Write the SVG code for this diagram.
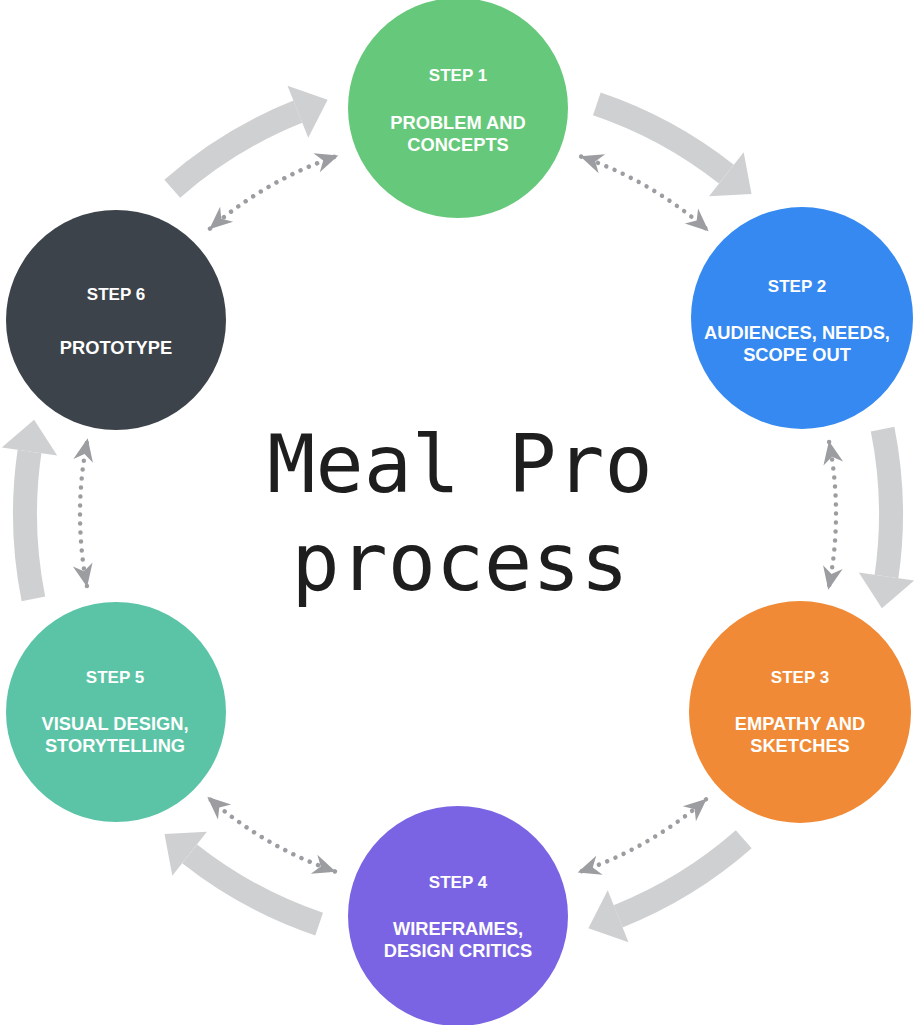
<svg xmlns="http://www.w3.org/2000/svg" width="918" height="1025" viewBox="0 0 918 1025">
<style>
.lbl{font-family:"Liberation Sans",Arial,sans-serif;font-weight:bold;fill:#ffffff;text-anchor:middle}
.step{font-size:17px}
.name{font-size:18.3px}
.title{font-family:"DejaVu Sans Mono",monospace;font-size:80px;fill:#1e1e1e;text-anchor:middle}
.shaft{fill:none;stroke:#cfd0d2;stroke-width:24}
.head{fill:#cfd0d2}
.dots{fill:none;stroke:#9c9da1;stroke-width:4.5;stroke-linecap:round;stroke-dasharray:0 9;marker-start:url(#dh);marker-end:url(#dh)}
</style>
<defs>
<marker id="dh" markerUnits="userSpaceOnUse" viewBox="-26 -13 28 26" markerWidth="28" markerHeight="26" refX="0" refY="0" orient="auto-start-reverse" overflow="visible">
<path d="M1,0 L-22,-10 L-15,0 L-22,10 Z" fill="#9c9da1"/>
</marker>
<g id="bigArrow">
<path class="shaft" d="M882.6,429.2 A433,433 0 0 1 886.5,576.5"/>
<polygon class="head" points="914.2,580.5 881.9,608.2 858.8,572.5"/>
</g>
<path id="dotArc" class="dots" d="M829.1,441.9 A378,378 0 0 1 828.5,588.7"/>
</defs>
<g id="connectors">
<use href="#bigArrow" transform="rotate(-120 458 514)"/>
<use href="#bigArrow" transform="rotate(-60 458 514)"/>
<use href="#bigArrow"/>
<use href="#bigArrow" transform="rotate(60 458 514)"/>
<use href="#bigArrow" transform="rotate(120 458 514)"/>
<use href="#bigArrow" transform="rotate(180 458 514)"/>
<use href="#dotArc" transform="rotate(-120 458 514)"/>
<use href="#dotArc" transform="rotate(-60 458 514)"/>
<use href="#dotArc"/>
<use href="#dotArc" transform="rotate(60 458 514)"/>
<use href="#dotArc" transform="rotate(120 458 514)"/>
<use href="#dotArc" transform="rotate(180 458 514)"/>
</g>
<g id="step1">
<circle cx="458" cy="108" r="110" fill="#66c87a"/>
<text class="lbl step" x="458" y="81">STEP 1</text>
<text class="lbl name" x="458" y="129">PROBLEM AND</text>
<text class="lbl name" x="458" y="151">CONCEPTS</text>
</g>
<g id="step2">
<circle cx="802" cy="318" r="111" fill="#3589f0"/>
<text class="lbl step" x="797" y="292">STEP 2</text>
<text class="lbl name" x="797" y="338.5">AUDIENCES, NEEDS,</text>
<text class="lbl name" x="797" y="361">SCOPE OUT</text>
</g>
<g id="step3">
<circle cx="800" cy="712" r="111" fill="#f08a36"/>
<text class="lbl step" x="800" y="683">STEP 3</text>
<text class="lbl name" x="800" y="729.5">EMPATHY AND</text>
<text class="lbl name" x="800" y="752">SKETCHES</text>
</g>
<g id="step4">
<circle cx="458" cy="916" r="110" fill="#7b64e3"/>
<text class="lbl step" x="458" y="888">STEP 4</text>
<text class="lbl name" x="458" y="934.5">WIREFRAMES,</text>
<text class="lbl name" x="458" y="957">DESIGN CRITICS</text>
</g>
<g id="step5">
<circle cx="116" cy="712" r="110" fill="#5bc4a6"/>
<text class="lbl step" x="115" y="683">STEP 5</text>
<text class="lbl name" x="115" y="729.5">VISUAL DESIGN,</text>
<text class="lbl name" x="115" y="752">STORYTELLING</text>
</g>
<g id="step6">
<circle cx="116" cy="320" r="110" fill="#3d434a"/>
<text class="lbl step" x="116" y="299.5">STEP 6</text>
<text class="lbl name" x="116" y="353.5">PROTOTYPE</text>
</g>
<g id="title">
<text class="title" x="460" y="492">Meal Pro</text>
<text class="title" x="460" y="590">process</text>
</g>
</svg>
